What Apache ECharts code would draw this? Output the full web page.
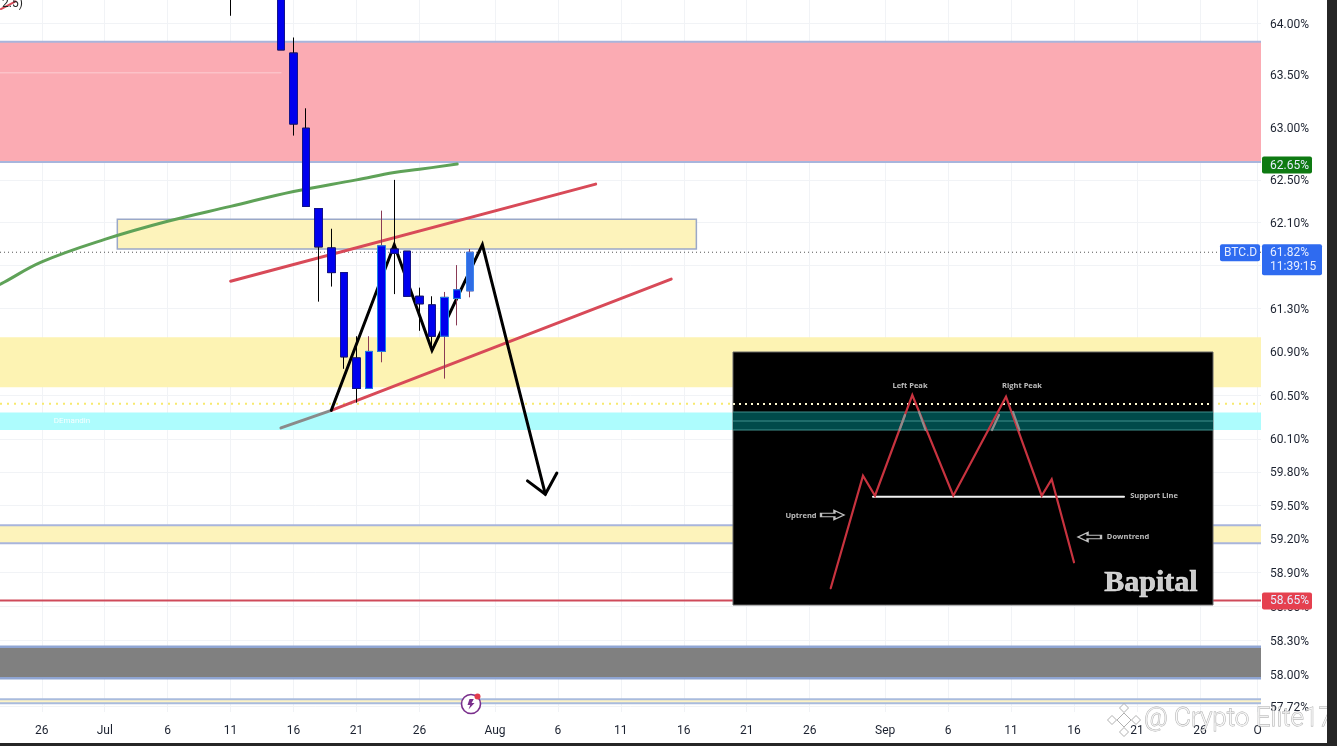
<!DOCTYPE html>
<html><head><meta charset="utf-8">
<style>html,body{margin:0;padding:0;background:#fff;overflow:hidden}#c{width:1337px;height:746px}</style>
<script src="https://cdn.jsdelivr.net/npm/echarts@6/dist/echarts.min.js"></script>
</head><body><div id="c"></div>
<script>
// ---- Axis ticks ----
const xTickDates = ['2025-06-26','2025-07-01','2025-07-06','2025-07-11','2025-07-16','2025-07-21','2025-07-26','2025-08-01','2025-08-06','2025-08-11','2025-08-16','2025-08-21','2025-08-26','2025-09-01','2025-09-06','2025-09-11','2025-09-16','2025-09-21','2025-09-26','2025-09-30T14:00Z'];
const xTickLabels = ['26','Jul','6','11','16','21','26','Aug','6','11','16','21','26','Sep','6','11','16','21','26','O'];
const yTicks = [64.0,63.5,63.0,62.5,62.1,61.7,61.3,60.9,60.5,60.1,59.8,59.5,59.2,58.9,58.6,58.3,58.0,57.72];
// ---- Candles: date, open, close, low, high ----
const candleDates = ['2025-07-11','2025-07-15','2025-07-16','2025-07-17','2025-07-18','2025-07-19','2025-07-20','2025-07-21','2025-07-22','2025-07-23','2025-07-24','2025-07-25','2025-07-26','2025-07-27','2025-07-28','2025-07-29','2025-07-30'];
const opens  = [64.60,64.39,63.71,62.99,62.23,61.86,61.63,60.84,60.56,60.90,61.85,61.83,61.41,61.33,61.04,61.39,61.46];
const closes = [64.50,63.74,63.03,62.25,61.87,61.63,60.85,60.56,60.90,61.88,61.81,61.41,61.34,61.04,61.40,61.47,61.82];
const lows   = [64.07,63.74,62.92,62.25,61.36,61.50,60.74,60.43,60.56,60.80,61.43,61.41,61.09,60.94,60.65,61.14,61.40];
const highs  = [64.70,64.45,63.86,63.18,62.23,62.04,61.63,61.04,61.04,62.21,62.50,61.83,61.49,61.41,61.45,61.70,61.85];
// ---- Moving average ----
const maDates = ['2025-06-22','2025-06-23','2025-06-26','2025-07-01','2025-07-06','2025-07-11','2025-07-16','2025-07-21','2025-07-24','2025-07-26','2025-07-29'];
const maValues = [61.48,61.54,61.73,61.94,62.11,62.25,62.39,62.50,62.57,62.60,62.65];
// ---- Drawn trend lines ----
const channelUpper = [['2025-07-11',61.55],['2025-08-09',62.46]];
const channelLowerGrey = [['2025-07-15',60.20],['2025-07-19',60.36]];
const channelLower = [['2025-07-19',60.36],['2025-08-15',61.57]];
const doubleTop = [['2025-07-19',60.36],['2025-07-24',61.89],['2025-07-27',60.91],['2025-07-31',61.89],['2025-08-05',59.60]];
const arrowHead = [['2025-08-03T14:00Z',59.72],['2025-08-05',59.60],['2025-08-05T22:00Z',59.79]];
const cornerDash = [['2025-06-22T18:00Z',64.135],['2025-06-23T22:00Z',64.21]];
const pinkSeam = [['2025-06-22',63.52],['2025-07-15',63.52]];
// ---- Zones: start, end, low, high ----
const AXIS_START = '2025-06-22T16:20Z', AXIS_END = '2025-09-30T20:30Z';
const supplyZone = [AXIS_START,AXIS_END,62.67,63.82];
const midBox = ['2025-07-02','2025-08-17',61.85,62.13];
const yellowWide = [AXIS_START,AXIS_END,60.57,61.03];
const cyanZone = [AXIS_START,AXIS_END,60.18,60.34];
const yellowLow = [AXIS_START,AXIS_END,59.16,59.32];
const greyZone = [AXIS_START,AXIS_END,57.965,58.24];
const bottomZone = [AXIS_START,AXIS_END,57.745,57.78];
// ---- Levels ----
const lastPrice = 61.82, dottedYellowLevel = 60.42, greenLevel = 62.65, redLevel = 58.65;
const countdown = '11:39:15', symbolName = 'BTC.D';
// ---- Inset picture (its own small scale) ----
const insetPattern = [[97.7,16.7],[130,129.3],[142,109.3],[179.3,210],[220.3,109.3],[273,208.3],[308.7,109.3],[318.7,125.7],[341,42.7]];
const insetFaded = [[166.5,175],[172,190],null,[186,193],[192.5,175],null,[259,175],[266,190],null,[280,193],[286.5,175]];
const insetSupport = [[140,108.3],[391,108.3]];
const insetDots = [[0,201],[480,201]];
const insetBand = [0,480,175,193];
const insetTexts = [['Left Peak',177,219],['Right Peak',289,219],['Support Line',421,109],['Uptrend',68,89],['Downtrend',395,68]];
const insetBrand = ['Bapital',418,22];
const insetArrows = [[99.5,90],[356.5,68]];

const T = s => Date.parse(s);
const FONT = 'Roboto, sans-serif';
const tickMap = {}; xTickDates.forEach((d,i)=>tickMap[T(d)]=xTickLabels[i]);
const xTicks = xTickDates.map(T);
const asLine = a => a.map(p=>[T(p[0]),p[1]]);
const candleRows = candleDates.map((d,i)=>[T(d),opens[i],closes[i],lows[i],highs[i]]);
const lastIdx = candleRows.length-1;
function bodyRows(){
  return candleRows.map((r,i)=>{
    const v=[r[0],r[1],r[2],Math.min(r[1],r[2]),Math.max(r[1],r[2])];
    return i===lastIdx?{value:v,itemStyle:{color:'#2f6ce5',borderColor:'#3f86ee'}}:v;
  });
}
function zone(name,row,fill,edge,edgeW,box,z){
  return {type:'custom',name,silent:true,z:z||1,clip:true,xAxisIndex:0,yAxisIndex:0,
    encode:{x:[0,1],y:[2,3]},
    data:[[T(row[0]),T(row[1]),row[2],row[3]]],
    renderItem(p,api){
      const a=api.coord([api.value(0),api.value(3)]), b=api.coord([api.value(1),api.value(2)]);
      const kids=[{type:'rect',shape:{x:a[0],y:a[1],width:b[0]-a[0],height:b[1]-a[1]},style:{fill,stroke:box?edge:null,lineWidth:edgeW}}];
      if(edge&&!box){
        kids.push({type:'line',shape:{x1:a[0],y1:a[1],x2:b[0],y2:a[1]},style:{stroke:edge,lineWidth:edgeW}});
        kids.push({type:'line',shape:{x1:a[0],y1:b[1],x2:b[0],y2:b[1]},style:{stroke:edge,lineWidth:edgeW}});
      }
      return {type:'group',children:kids};
    }};
}
function line(name,data,color,width,z,extra){
  return Object.assign({type:'line',name,data,showSymbol:false,symbol:'none',silent:true,z,
    lineStyle:{color,width,cap:'round',join:'miter'},connectNulls:false},extra||{});
}
function level(name,v,color,width,type,z){
  return line(name,[[T(AXIS_START),v],[T(AXIS_END),v]],color,width,z,{lineStyle:{color,width,type,cap:'butt'}});
}
const inX={xAxisIndex:1,yAxisIndex:1};
const LAV='#a8b5dc';
const series=[
  zone('Supply',supplyZone,'#fbabb3',LAV,2,false,1),
  line('Seam',asLine(pinkSeam),'#fcc2c8',1.5,2),
  zone('Yellow wide',yellowWide,'#fdf3b3',null,0,false,1),
  zone('Mid box',midBox,'#fdf3bb','#9aa8c8',1.5,true,1),
  zone('Cyan',cyanZone,'#adfcfd',null,0,false,1),
  zone('Yellow low',yellowLow,'#fdf3bb',LAV,2,false,1),
  zone('Grey',greyZone,'#808080','#8fa5d3',2.5,false,1),
  zone('Bottom',bottomZone,'#fdf3c6','#a9bbdd',2,false,1),
  level('Last',lastPrice,'#555',1,[1,3],2),
  level('Dots',dottedYellowLevel,'#f7e96e',2,[2,5],2),
  level('Red level',redLevel,'#cf4a5a',2,'solid',2),
  line('MA',maDates.map((d,i)=>[T(d),maValues[i]]),'#5fa258',3,3,{smooth:0.4}),
  line('Channel upper',asLine(channelUpper),'#d84a58',3,3),
  line('Channel grey',asLine(channelLowerGrey),'#8a8a8a',3,3),
  line('Channel lower',asLine(channelLower),'#d84a58',3,3),
  line('Corner',asLine(cornerDash),'#d84a58',2,3),
  line('Double top',asLine(doubleTop),'#000',3,4),
  line('Arrow',asLine(arrowHead),'#000',3,4),
  {type:'candlestick',name:'Wicks',silent:true,z:5,barWidth:8,encode:{x:0,y:[1,2,3,4]},
    itemStyle:{color:'#0000ee',color0:'#0000ee',borderColor:'#8a3a55',borderColor0:'#000',borderWidth:1},
    data:candleRows},
  {type:'candlestick',name:'Bodies',silent:true,z:6,barWidth:8,encode:{x:0,y:[1,2,3,4]},
    itemStyle:{color:'#0000ee',color0:'#0000ee',borderColor:'#1f86e6',borderColor0:'#14148c',borderWidth:1},
    data:bodyRows()},
  // inset
  {type:'custom',name:'Inset',silent:true,z:10,clip:false,...inX,encode:{x:[0,1],y:[2,3]},data:[[0,480,0,253]],
    renderItem(p,api){const a=api.coord([api.value(0),api.value(3)]),b=api.coord([api.value(1),api.value(2)]);
      return {type:'rect',shape:{x:a[0],y:a[1],width:b[0]-a[0],height:b[1]-a[1]},style:{fill:'#000',stroke:'#666',lineWidth:1}};}},
  {type:'custom',name:'Inset band',silent:true,z:11,clip:false,...inX,encode:{x:[0,1],y:[2,3]},data:[insetBand],
    renderItem(p,api){const a=api.coord([api.value(0),api.value(3)]),b=api.coord([api.value(1),api.value(2)]);
      const m=(a[1]+b[1])/2, L=(y)=>({type:'line',shape:{x1:a[0],y1:y,x2:b[0],y2:y},style:{stroke:'#3e8f8c',lineWidth:1}});
      return {type:'group',children:[{type:'rect',shape:{x:a[0],y:a[1],width:b[0]-a[0],height:b[1]-a[1]},style:{fill:'#004a4a'}},L(a[1]),L(m),L(b[1])]};}},
  line('Inset dots',insetDots,'#fff9d0',2,12,{...inX,lineStyle:{color:'#fff9d0',width:2,type:[2,4],cap:'butt'}}),
  line('Inset support',insetSupport,'#f2f2f2',2,12,inX),
  line('Inset pattern',insetPattern,'#c8333f',2.2,13,inX),
  line('Inset faded',insetFaded,'#8d8d8d',2.2,14,inX),
  {type:'scatter',name:'Inset labels',silent:true,z:15,...inX,symbolSize:0,
    data:insetTexts.map(t=>({name:t[0],value:[t[1],t[2]]})),
    label:{show:true,position:'inside',formatter:'{b}',color:'#e8e8e8',fontFamily:'"Open Sans",sans-serif',fontWeight:'bold',fontSize:7.5}},
  {type:'scatter',name:'Inset brand',silent:true,z:15,...inX,symbolSize:0,
    data:[{name:insetBrand[0],value:[insetBrand[1],insetBrand[2]]}],
    label:{show:true,position:'inside',formatter:'{b}',color:'#ffffff',textBorderColor:'#ffffff',textBorderWidth:0.6,fontFamily:'"Liberation Serif",serif',fontWeight:'bold',fontSize:30}},
  {type:'scatter',name:'Inset arrows',silent:true,z:15,...inX,
    symbol:'path://M0 3H14V0L24 5L14 10V7H0Z',symbolSize:[23,9],
    data:[{value:insetArrows[0]},{value:insetArrows[1],symbolRotate:180}],
    itemStyle:{color:'#000',borderColor:'#f0f0f0',borderWidth:1.5}}
];

const chart=echarts.init(document.getElementById('c'),null,{renderer:'canvas'});
const option={
  animation:false,useUTC:true,backgroundColor:'#fff',
  textStyle:{fontFamily:FONT},
  grid:[{left:0,top:0,right:76,bottom:34,containLabel:false},{left:733,top:352,width:480,height:253,show:false}],
  xAxis:[{type:'value',gridIndex:0,min:T(AXIS_START),max:T(AXIS_END),
      axisLine:{show:false},
      axisTick:{show:false,customValues:xTicks},
      splitLine:{show:true,lineStyle:{color:'#f1f3f6',width:1}},
      axisLabel:{customValues:xTicks,margin:13,color:'#1c2230',fontFamily:FONT,fontSize:12,hideOverlap:false,showMinLabel:true,showMaxLabel:true,
        formatter:v=>tickMap[v]||''}},
    {type:'value',gridIndex:1,min:0,max:480,show:false}],
  yAxis:[{type:'log',logBase:10,gridIndex:0,position:'right',min:57.669,max:64.223,
      axisLine:{show:false},
      axisTick:{show:false,customValues:yTicks},
      splitLine:{show:true,lineStyle:{color:'#f1f3f6',width:1}},
      axisLabel:{customValues:yTicks,margin:9,color:'#1c2230',fontFamily:FONT,fontSize:12,verticalAlign:'top',lineHeight:3,
        formatter:v=>(Math.round(v*100)/100).toFixed(2)+'%'}},
    {type:'value',gridIndex:1,min:0,max:253,show:false}],
  series
};
chart.setOption(option);

const yPix=v=>chart.convertToPixel({yAxisIndex:0},v);
function tag(x,yTop,w,h,fill,lines,tx,z){
  const out=[{type:'rect',z:z||100,shape:{x,y:yTop,width:w,height:h,r:2},style:{fill}}];
  lines.forEach((t,i)=>out.push({type:'text',z:(z||100)+1,x:tx,y:yTop+9+i*14,
    style:{text:t,fill:'#e6edff',font:'12px '+FONT,textAlign:'left',textVerticalAlign:'middle',textBaseline:'middle'}}));
  return out;
}
const gy=yPix(greenLevel), ry=yPix(redLevel), by=yPix(lastPrice);
const boltPoints=[[469.5,699],[473.8,699],[471.6,703],[474.5,703],[468.5,709.5],[470.2,705],[467.5,705]];
const els=[
  ...tag(1262,gy-7.5,50,17,'#0e7a12',[greenLevel.toFixed(2)+'%'],1270),
  ...tag(1262,ry-8,50,17,'#e5404f',[redLevel.toFixed(2)+'%'],1270),
  ...tag(1262,by-8,60,31,'#2f6bf0',[lastPrice.toFixed(2)+'%',countdown],1270),
  ...tag(1220,by-8,40,17,'#2f6bf0',[symbolName],1224),
  {type:'text',z:60,x:2,y:4,silent:true,style:{text:'2.5)',fill:'#222',font:'12px '+FONT,textBaseline:'middle',textVerticalAlign:'middle'}},
  {type:'text',z:60,x:72,y:421,silent:true,style:{text:'DEmandin',fill:'rgba(255,255,255,.9)',font:'8px '+FONT,textAlign:'center',textBaseline:'middle',textVerticalAlign:'middle'}},
  {type:'circle',z:60,shape:{cx:471,cy:704,r:9.5},style:{fill:'#fff',stroke:'#7a2f8c',lineWidth:1.6}},
  {type:'polygon',z:61,shape:{points:boltPoints},style:{fill:'#7a2f8c'}},
  {type:'circle',z:62,shape:{cx:477.5,cy:696.5,r:3},style:{fill:'#e23b4d'}},
  // watermark
  ...[[1124,720,7],[1124,708,4.5],[1124,732,4.5],[1112,720,4.5],[1136,720,4.5]].map(d=>({type:'polygon',z:110,
     shape:{points:[[d[0],d[1]-d[2]],[d[0]+d[2],d[1]],[d[0],d[1]+d[2]],[d[0]-d[2],d[1]]]},
     style:{fill:'rgba(255,255,255,.85)',stroke:'rgba(150,150,150,.75)',lineWidth:1}})),
  {type:'text',z:110,x:1144,y:719,style:{text:'@ Crypto Elite17',font:'300 26px '+FONT,fill:'rgba(255,255,255,.7)',stroke:'rgba(140,140,140,.75)',lineWidth:.8,textBaseline:'middle',textVerticalAlign:'middle'}},
  // photo edge
  {type:'rect',z:120,shape:{x:1327,y:0,width:10,height:746},style:{fill:'#262626'}},
  {type:'rect',z:120,shape:{x:0,y:743,width:1337,height:3},style:{fill:'#262626'}}
];
chart.setOption({graphic:{elements:els}});
</script></body></html>
